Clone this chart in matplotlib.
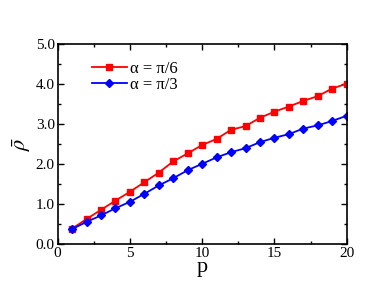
import matplotlib
matplotlib.use("Agg")
import matplotlib.pyplot as plt
from matplotlib.ticker import MultipleLocator

plt.rcParams['font.family'] = ['Liberation Serif', 'DejaVu Serif']
plt.rcParams['mathtext.fontset'] = 'stix'

p = list(range(1, 21))
rho_pi6 = [0.38, 0.62, 0.85, 1.08, 1.30, 1.54, 1.78, 2.06, 2.26, 2.47,
           2.62, 2.85, 2.94, 3.15, 3.30, 3.43, 3.57, 3.69, 3.88, 4.00]
rho_pi3 = [0.37, 0.55, 0.71, 0.89, 1.05, 1.25, 1.46, 1.64, 1.84, 2.00,
           2.16, 2.29, 2.39, 2.54, 2.65, 2.74, 2.88, 2.96, 3.07, 3.20]
labels = ["α = π/6", "α = π/3"]
xticks = [0, 5, 10, 15, 20]
yticks = [0.0, 1.0, 2.0, 3.0, 4.0, 5.0]

fig = plt.figure(figsize=(3.74, 2.89), dpi=100)
ax = fig.add_axes([0.154, 0.156, 0.773, 0.693])

ax.plot(p, rho_pi6, color='#ff0000', marker='s', markersize=4.2, lw=1.3, label=labels[0])
ax.plot(p, rho_pi3, color='#0000ff', marker='D', markersize=4.2, lw=1.3, label=labels[1])

ax.set_xlim(0, 20)
ax.set_ylim(0, 5)
ax.set_xticks(xticks)
ax.set_yticks(yticks)
ax.set_yticklabels([f"{v:.1f}" for v in yticks])
ax.xaxis.set_minor_locator(MultipleLocator(2.5))
ax.yaxis.set_minor_locator(MultipleLocator(0.5))
ax.tick_params(which='both', direction='in', top=True, right=True, labelsize=11, width=1)
ax.tick_params(which='major', length=4)
ax.tick_params(which='minor', length=2)
ax.tick_params(axis='x', pad=2)
ax.tick_params(axis='y', pad=2)
for s in ax.spines.values():
    s.set_linewidth(1.2)

ax.set_xlabel('p', fontsize=16, labelpad=-1)
ax.set_ylabel(r'$\bar{\rho}$', fontsize=16, labelpad=2)

ax.legend(loc='upper left', bbox_to_anchor=(0.09, 0.955), frameon=False, fontsize=12,
          handlelength=2.1, handletextpad=0.2, labelspacing=0.0, borderpad=0)

fig.savefig('out.png', dpi=100)
